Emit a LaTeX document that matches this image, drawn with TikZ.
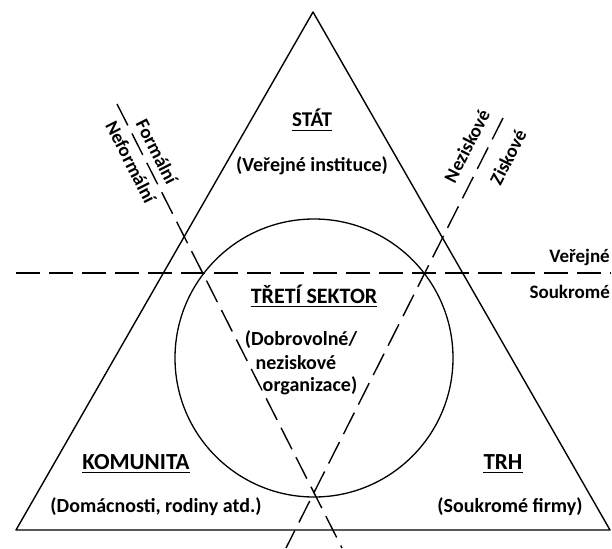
\documentclass[tikz,border=0pt]{standalone}
\usepackage{fontspec}
\setmainfont{Carlito}
\usetikzlibrary{calc}
\begin{document}
\begin{tikzpicture}[x=1pt,y=-1pt,
  edge/.style={line width=1.4pt,line join=round},
  divider/.style={line width=1.4pt,dash pattern=on 24pt off 9pt},
  uline/.style={line width=1.3pt},
  lbl/.style={inner sep=0pt,font=\fontsize{20}{24}\selectfont\bfseries},
  ttl/.style={inner sep=0pt,anchor=base,font=\fontsize{22}{24}\selectfont\bfseries},
  side/.style={inner sep=0pt,font=\fontsize{19}{22}\selectfont\bfseries}]
\useasboundingbox (0,0) rectangle (612,548);
% triangle
\coordinate (apex) at (313,12);
\coordinate (bl) at (16,530);
\coordinate (br) at (610,530);
\draw[edge] (apex) -- (bl) -- (br) -- cycle;
% circle
\node[draw,line width=1.3pt,circle,minimum size=278pt,inner sep=0pt] (circ) at (314,358) {};
% dividers
\coordinate (hL) at (16,273);
\coordinate (hR) at (611,273);
\draw[divider] (hL) -- (hR);
\coordinate (lT) at (117,104);
\coordinate (lB) at (342,548);
\draw[divider] (lT) -- (lB);
\coordinate (rT) at (503,118);
\coordinate (rB) at (286,548);
\draw[divider] (rT) -- (rB);
% titles
\node[ttl,font=\fontsize{21}{24}\selectfont\bfseries] (stat) at (312,127) {STÁT};
\draw[uline] ($(stat.base west)+(0,3.5)$) -- ($(stat.base east)+(0,3.5)$);
\node[lbl] (statd) at (312,166) {(Veřejné instituce)};
\node[ttl] (tret) at (314,303) {TŘETÍ SEKTOR};
\draw[uline] ($(tret.base west)+(0,3.5)$) -- ($(tret.base east)+(0,3.5)$);
\node[lbl] (tr1) at (301,340) {(Dobrovolné/};
\node[lbl] (tr2) at (296,363) {neziskové};
\node[lbl] (tr3) at (310,386) {organizace)};
\node[ttl,font=\fontsize{23}{24}\selectfont\bfseries] (kom) at (136,469) {KOMUNITA};
\draw[uline] ($(kom.base west)+(0,3.5)$) -- ($(kom.base east)+(0,3.5)$);
\node[lbl] (komd) at (156,507) {(Domácnosti, rodiny atd.)};
\node[ttl,font=\fontsize{23}{24}\selectfont\bfseries] (trh) at (503,469) {TRH};
\draw[uline] ($(trh.base west)+(0,3.5)$) -- ($(trh.base east)+(0,3.5)$);
\node[lbl] (trhd) at (510,507) {(Soukromé firmy)};
% side labels
\node[side,anchor=east] (ver) at (610,257) {Veřejné};
\node[side,anchor=east] (souk) at (610,292) {Soukromé};
\node[side,rotate=-63] (form) at (157,152) {Formální};
\node[side,rotate=-63] (neform) at (131,162) {Neformální};
\node[side,rotate=63] (nezisk) at (467,146) {Neziskové};
\node[side,rotate=63] (zisk) at (508,157) {Ziskové};
\end{tikzpicture}
\end{document}
